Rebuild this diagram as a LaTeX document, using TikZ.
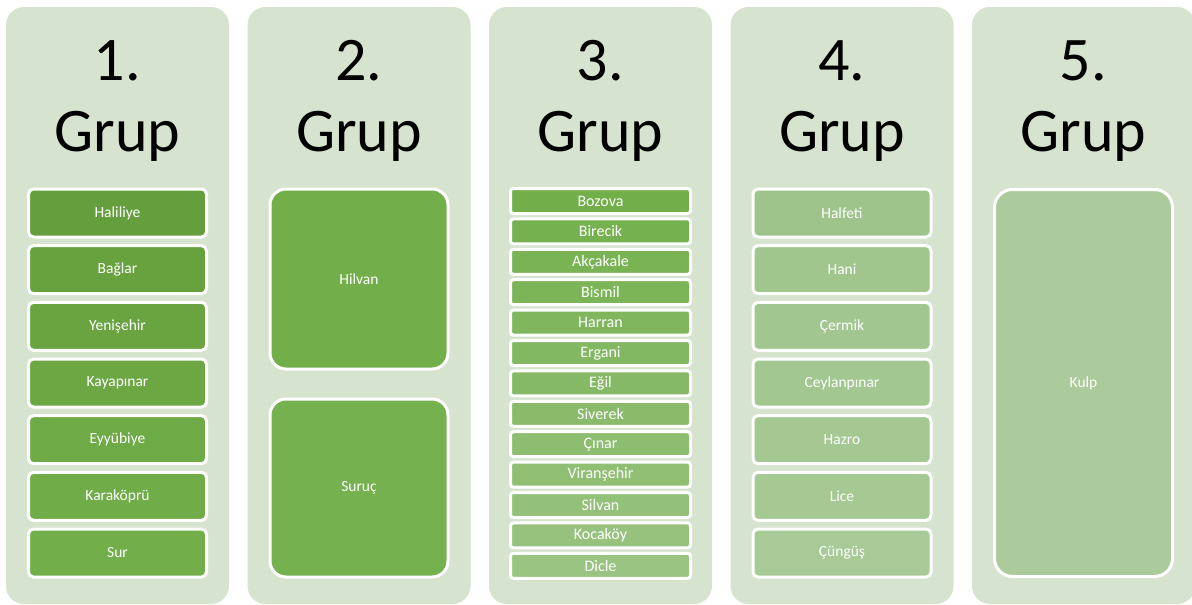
\documentclass[tikz,border=0pt]{standalone}
\usepackage{fontspec}
\setmainfont{Carlito}
\usetikzlibrary{positioning}
\usepackage{xcolor}

\definecolor{panelbg}{RGB}{214,227,206}
\definecolor{gDark}{RGB}{101,159,61}
\definecolor{gMid}{RGB}{114,175,74}
\definecolor{gLight}{RGB}{154,196,130}
\definecolor{gPale}{RGB}{158,196,139}
\definecolor{gPaler}{RGB}{168,202,150}
\definecolor{gKulp}{RGB}{172,203,157}

\begin{document}
\begin{tikzpicture}[
    x=1pt, y=-1pt,
    panel/.style={fill=panelbg, rounded corners=18pt},
    title/.style={font=\fontsize{62}{64}\selectfont, anchor=base},
    item/.style={draw=white, line width=3pt, rounded corners=5pt, text=white,
                 minimum width=178pt, minimum height=48pt, inner sep=0pt,
                 font=\fontsize{15.5}{17}\selectfont},
    thinitem/.style={item, rounded corners=3pt, minimum width=180pt, minimum height=25pt,
                     font=\fontsize{16}{18}\selectfont},
    bigitem/.style={item, rounded corners=16pt}
  ]
  \useasboundingbox (0,0) rectangle (1192,605);

  % panels and titles
  \foreach \n/\x in {1/6, 2/247.5, 3/489, 4/730.5, 5/972} {
    \fill[panel] (\x,7) rectangle ++(223,597);
    \node[title] (num\n) at (\x+111.5,80) {\n.};
    \node[title] (grup\n) at (\x+111.5,151) {Grup};
  }

  % 1. Grup
  \foreach \name [count=\i] in {Haliliye, Bağlar, Yenişehir, Kayapınar, Eyyübiye, Karaköprü, Sur} {
    \pgfmathtruncatemacro\p{100-100*(\i-1)/6}
    \node[item, fill=gDark!\p!gMid] (g1-\i) at (117.5,{213+56.67*(\i-1)}) {\name};
  }

  % 2. Grup
  \node[bigitem, fill=gMid, minimum height=180pt] (g2-1) at (359,279) {Hilvan};
  \node[bigitem, fill=gMid!90!gLight, minimum height=178pt] (g2-2) at (359,488) {Suruç};

  % 3. Grup
  \foreach \name [count=\i] in {Bozova, Birecik, Akçakale, Bismil, Harran, Ergani, Eğil,
                               Siverek, Çınar, Viranşehir, Silvan, Kocaköy, Dicle} {
    \pgfmathtruncatemacro\p{100-100*(\i-1)/12}
    \node[thinitem, fill=gMid!\p!gLight] (g3-\i) at (600.5,{201+30.4*(\i-1)}) {\name};
  }

  % 4. Grup
  \foreach \name [count=\i] in {Halfeti, Hani, Çermik, Ceylanpınar, Hazro, Lice, Çüngüş} {
    \pgfmathtruncatemacro\p{100-100*(\i-1)/6}
    \node[item, fill=gPale!\p!gPaler] (g4-\i) at (842,{213+56.67*(\i-1)}) {\name};
  }

  % 5. Grup
  \node[bigitem, fill=gKulp, rounded corners=18pt, minimum height=387pt] (g5-1) at (1083.5,383) {Kulp};
\end{tikzpicture}
\end{document}
